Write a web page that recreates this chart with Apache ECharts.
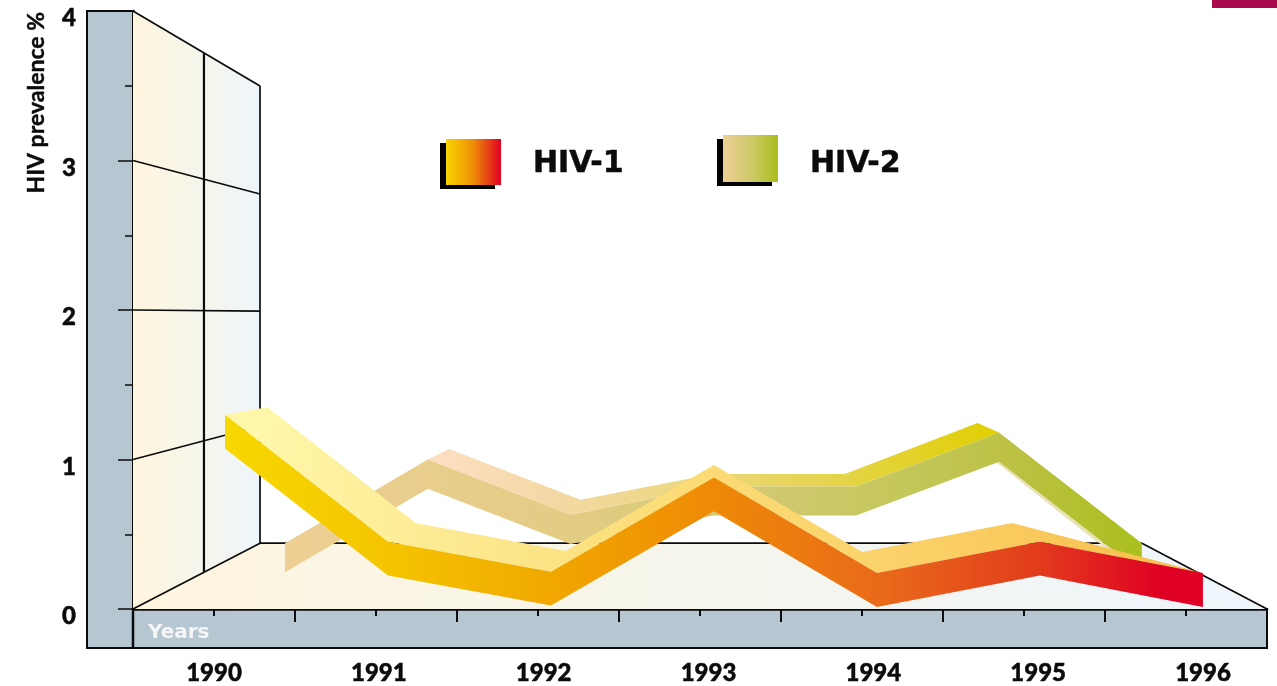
<!DOCTYPE html>
<html><head><meta charset="utf-8">
<style>html,body{margin:0;padding:0;background:#fff}#c{width:1277px;height:686px}</style>
<script src="https://cdn.jsdelivr.net/npm/echarts@6/dist/echarts.min.js"></script>
</head><body><div id="c"></div>
<script>
// ---- categories / tick labels
const years = ['1990','1991','1992','1993','1994','1995','1996'];
const yearValues = [1990,1991,1992,1993,1994,1995,1996];
const longTickYears = [1989.5,1990.5,1991.5,1992.5,1993.5,1994.5,1995.5,1996.5];
// ---- HIV-1 ribbon (front top edge)
const hiv1 = [1.30,0.45,0.25,0.88,0.24,0.45,0.24];
const hiv1Thickness = 0.226;
// HIV-1 receding edge of the ribbon's upper face
const hiv1BackYears  = [1990.26,1991.17,1992.09,1993,1993.91,1994.83,1996];
const hiv1BackValues = [1.35,0.575,0.388,0.963,0.381,0.575,0.24];
// ---- HIV-2 ribbon
const hiv2 = [0.44,1.00,0.63,0.82,0.82,1.18,0.44];
const hiv2Thickness = 0.195;
const hiv2BackYears  = [1991.15,1992.07,1993,1993.92,1994.85];
const hiv2BackValues = [1.07,0.73,0.903,0.903,1.244];
// ---- receding wall guides (value on back wall for each front tick)
const wallFront = [0,1,2,3,4];
const wallBack  = [0.44,1.224,1.993,2.776,3.498];
const wallBackYear = 1990.284, wallMidYear = 1989.938, floorBackRightYear = 1995.728;
const X_MIN = 1989.5, X_MAX = 1996.5;

const INK = '#0b0b0b', PANEL = '#b7c7d1';
const f1 = 'Lato, "Open Sans", sans-serif';

function grad(api, xa, xb, stops){
  const a = api.coord([xa,0])[0], b = api.coord([xb,0])[0];
  return new echarts.graphic.LinearGradient(a,0,b,0,stops.map(s=>({offset:s[0],color:s[1]})),true);
}
function poly(pts, fill, z2){ return {type:'polygon', z2:z2||0, shape:{points:pts}, style:{fill:fill, stroke:null}}; }
function seg(p, q, w){ return {type:'line', z2:5, shape:{x1:p[0],y1:p[1],x2:q[0],y2:q[1]}, style:{stroke:INK, lineWidth:w||1.7}}; }

function renderFrame(params, api){
  if (params.dataIndex !== 0) return;
  const c = (x,y)=>api.coord([x,y]);
  const wallStops = [[0,'#fff5df'],[0.56,'#f5f5ec'],[1,'#eef5fb']];
  const floorStops = [[0,'#fff5df'],[0.5,'#f5f5ec'],[1,'#eef6fc']];
  const kids = [];
  kids.push(poly([c(X_MIN,4),c(wallBackYear,wallBack[4]),c(wallBackYear,wallBack[0]),c(X_MIN,0)], grad(api,X_MIN,wallBackYear,wallStops)));
  kids.push(poly([c(X_MIN,0),c(wallBackYear,wallBack[0]),c(floorBackRightYear,wallBack[0]),c(X_MAX,0)], grad(api,X_MIN,X_MAX,floorStops)));
  wallFront.forEach((v,i)=>{ kids.push(seg(c(X_MIN,v),c(wallBackYear,wallBack[i]))); });
  kids.push(seg(c(wallBackYear,wallBack[0]),c(wallBackYear,wallBack[4])));
  kids.push(seg(c(wallMidYear,0.2475),c(wallMidYear,3.72),2.2));
  kids.push(seg(c(wallBackYear,wallBack[0]),c(floorBackRightYear,wallBack[0])));
  kids.push(seg(c(floorBackRightYear,wallBack[0]),c(X_MAX,0)));
  return {type:'group', children:kids};
}

function renderHiv2(params, api){
  if (params.dataIndex !== 0) return;
  const c = (x,y)=>api.coord([x,y]);
  const top = yearValues.map((y,i)=>c(y,hiv2[i]));
  const bot = yearValues.map((y,i)=>c(y,hiv2[i]-hiv2Thickness)).reverse();
  const frontStops = [[0,'#eecf94'],[0.33,'#e3cc84'],[0.55,'#d3c972'],[0.72,'#c4c75a'],[0.85,'#bcc144'],[1,'#aabf1c']];
  const topStops = [[0,'#fcdfc4'],[0.25,'#f3d8a0'],[0.5,'#ebd677'],[0.72,'#e4d44a'],[1,'#e0cf00']];
  const back = [c(1991,hiv2[1])].concat(hiv2BackYears.map((y,i)=>c(y,hiv2BackValues[i])), [c(1995,hiv2[5])]);
  const frontTop = yearValues.slice(1,6).map((y,i)=>c(y,hiv2[i+1])).reverse();
  return {type:'group', children:[
    poly([c(1995,hiv2[5]-hiv2Thickness),c(1996,hiv2[6]-hiv2Thickness),c(1995.65,0.475),c(1994.97,0.99)],'#e9e2b6',1),
    poly(back.concat(frontTop), grad(api,1991,1995,topStops),1),
    poly(top.concat(bot), grad(api,1990,1996,frontStops),2)
  ]};
}

function renderHiv1(params, api){
  if (params.dataIndex !== 0) return;
  const c = (x,y)=>api.coord([x,y]);
  const top = yearValues.map((y,i)=>c(y,hiv1[i]));
  const bot = yearValues.map((y,i)=>c(y,hiv1[i]-hiv1Thickness)).reverse();
  const back = hiv1BackYears.map((y,i)=>c(y,hiv1BackValues[i]));
  const frontStops = [[0,'#f7d800'],[0.17,'#f4c400'],[0.33,'#f1a800'],[0.5,'#ee8a06'],[0.67,'#e96a1a'],[0.83,'#e23c1c'],[0.96,'#e00024'],[1,'#e00024']];
  const topStops = [[0,'#fff9ad'],[0.2,'#fdec95'],[0.38,'#fbe07e'],[0.5,'#fbdb75'],[0.7,'#fad168'],[1,'#f7bd4a']];
  return {type:'group', children:[
    poly(back.concat(top.slice().reverse()), grad(api,1990,1996,topStops),1),
    poly(top.concat(bot), grad(api,1990,1996,frontStops),2)
  ]};
}

const legend1Color = {type:'linear',x:0,y:0,x2:1,y2:0,colorStops:[{offset:0,color:'#f7d500'},{offset:0.5,color:'#ee8c05'},{offset:1,color:'#e00024'}]};
const legend2Color = {type:'linear',x:0,y:0,x2:1,y2:0,colorStops:[{offset:0,color:'#eccf95'},{offset:0.5,color:'#cfc96a'},{offset:1,color:'#a9bd1a'}]};
const legendShadow = {shadowColor:'#000',shadowBlur:0,shadowOffsetX:-6,shadowOffsetY:4};
const legendFont = {fontFamily:'"DejaVu Sans"',fontWeight:'bold',fontSize:30,color:INK,textBorderColor:INK,textBorderWidth:0.5};

const option = {
  animation:false,
  backgroundColor:'#fff',
  tooltip:{show:false},
  legend:[
    {show:true,data:[{name:'HIV-1',icon:'rect',itemStyle:Object.assign({color:legend1Color},legendShadow)}],
     left:446,top:139,padding:0,itemWidth:55,itemHeight:46,selectedMode:false,formatter:'{a|{name}}',
     textStyle:{rich:{a:Object.assign({padding:[4,0,0,27]},legendFont)}}},
    {show:true,data:[{name:'HIV-2',icon:'rect',itemStyle:Object.assign({color:legend2Color},legendShadow)}],
     left:723,top:135,padding:0,itemWidth:55,itemHeight:47,selectedMode:false,formatter:'{a|{name}}',
     textStyle:{rich:{a:Object.assign({padding:[11,0,0,27]},legendFont)}}}
  ],
  grid:[
    {left:133,top:11,width:1134,height:598,containLabel:false},
    {left:214,top:11,width:989,height:598,containLabel:false}
  ],
  xAxis:[
    {type:'value',gridIndex:0,min:X_MIN,max:X_MAX,interval:0.5,position:'bottom',
     axisLine:{show:true,onZero:false,lineStyle:{color:INK,width:2.5}},axisTick:{show:true,length:7,lineStyle:{color:INK,width:2}},axisLabel:{show:false},splitLine:{show:false}},
    {type:'value',gridIndex:0,min:X_MIN,max:X_MAX,position:'bottom',
     axisLine:{show:false},axisTick:{show:true,length:13,customValues:longTickYears,lineStyle:{color:INK,width:2}},axisLabel:{show:false},splitLine:{show:false}},
    {type:'value',gridIndex:0,min:1989.4356,max:1996.393,show:false},
    {type:'value',gridIndex:0,min:1988.9356,max:1996.877,show:false},
    {type:'category',gridIndex:1,data:years,boundaryGap:false,position:'bottom',axisLine:{show:false},axisTick:{show:false},
     axisLabel:{show:true,interval:0,margin:53,color:INK,fontFamily:f1,fontWeight:900,fontSize:24,textBorderColor:INK,textBorderWidth:0.5}},
    {type:'value',gridIndex:0,min:X_MIN,max:X_MAX,position:'bottom',offset:24,name:'Years',nameLocation:'start',nameGap:-15,
     nameTextStyle:{align:'left',verticalAlign:'middle',color:'#f4f6f7',fontFamily:'"DejaVu Sans"',fontWeight:'bold',fontSize:20},
     axisLine:{show:false},axisTick:{show:false},axisLabel:{show:false},splitLine:{show:false}}
  ],
  yAxis:[
    {type:'value',gridIndex:0,min:0,max:4,interval:1,
     axisLine:{show:true,onZero:false,lineStyle:{color:INK,width:2.5}},
     axisTick:{show:true,length:15,lineStyle:{color:INK,width:1.5}},
     minorTick:{show:true,splitNumber:2,length:8,lineStyle:{color:INK,width:1.5}},
     splitLine:{show:false},minorSplitLine:{show:false},
     axisLabel:{show:true,align:'center',verticalAlign:'top',lineHeight:15,margin:64,color:INK,fontFamily:f1,fontWeight:900,fontSize:24,textBorderColor:INK,textBorderWidth:0.5}},
    {type:'value',gridIndex:0,min:0,max:4,position:'left',offset:96,name:'HIV prevalence %',nameLocation:'end',nameRotate:90,nameGap:-1,
     nameTextStyle:{align:'right',verticalAlign:'middle',color:INK,fontFamily:f1,fontWeight:700,fontSize:23,textBorderColor:INK,textBorderWidth:0.4},
     axisLine:{show:false},axisTick:{show:false},axisLabel:{show:false},splitLine:{show:false}},
    {type:'value',gridIndex:1,min:0,max:4,show:false}
  ],
  graphic:[
    {type:'rect',z:-1,shape:{x:87,y:11,width:46,height:637},style:{fill:PANEL,stroke:INK,lineWidth:2}},
    {type:'rect',z:-1,shape:{x:133,y:609,width:1134,height:39},style:{fill:PANEL,stroke:INK,lineWidth:2}},
    {type:'line',z:-1,shape:{x1:133,y1:609,x2:133,y2:648},style:{stroke:INK,lineWidth:2.5}},
    {type:'rect',z:-1,shape:{x:1212,y:0,width:65,height:8},style:{fill:'#aa0a4b'}}
  ],
  series:[
    {type:'custom',name:'frame',xAxisIndex:0,yAxisIndex:0,z:1,clip:false,silent:true,renderItem:renderFrame,data:[[X_MIN,0]]},
    {type:'custom',name:'HIV-2',xAxisIndex:3,yAxisIndex:0,z:2,clip:false,silent:true,renderItem:renderHiv2,itemStyle:{color:legend2Color},
     encode:{x:0,y:1},data:yearValues.map((y,i)=>[y,hiv2[i]])},
    {type:'custom',name:'HIV-1',xAxisIndex:2,yAxisIndex:0,z:3,clip:false,silent:true,renderItem:renderHiv1,itemStyle:{color:legend1Color},
     encode:{x:0,y:1},data:yearValues.map((y,i)=>[y,hiv1[i]])}
  ]
};
echarts.init(document.getElementById('c'),null,{renderer:'canvas'}).setOption(option);
</script></body></html>
